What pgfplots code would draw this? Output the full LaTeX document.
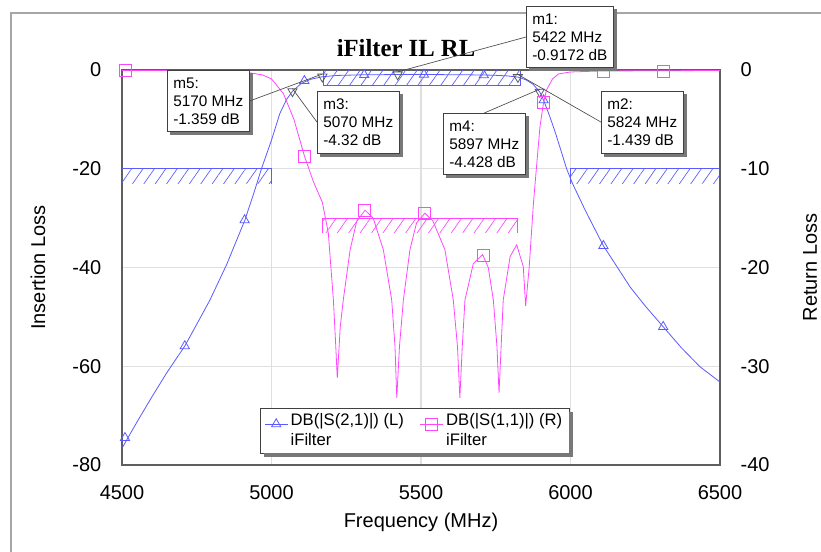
\documentclass[border=0pt]{standalone}
\usepackage{pgfplots}
\pgfplotsset{compat=1.18}
\usepackage{fontspec}
\setmainfont{Liberation Sans}
\newfontfamily\serifbold{Liberation Serif}
\usetikzlibrary{patterns.meta}

\definecolor{sblue}{RGB}{90,90,255}
\definecolor{spink}{RGB}{255,70,255}
\definecolor{framec}{RGB}{95,95,95}
\definecolor{shadowc}{RGB}{120,120,120}

\tikzset{
  mk/.style={draw=black!75, fill=white, line width=0.5pt, align=left,
    inner xsep=4.5pt, inner ysep=5.5pt, font=\fontsize{11.5}{13.5}\selectfont}}

% shadow below and right of a named node
\newcommand\shadowof[1]{%
  \fill[shadowc] ([shift={(2.6pt,-2.6pt)}]#1.south west) rectangle ([shift={(2.6pt,-2.6pt)}]#1.north east);}

\pgfplotsset{
  base/.style={at={(91.5pt,65.25pt)}, anchor=south west, scale only axis,
    width=448.5pt, height=296.25pt, xmin=4500, xmax=6500,
    major tick length=0pt, axis line style={framec, line width=0.8pt},
    tick label style={font=\fontsize{15}{18}\selectfont},
    label style={font=\fontsize{15}{18}\selectfont},
    /pgf/number format/assume math mode=true, /pgf/number format/1000 sep={}},
  hatch/.style={draw=none, pattern={Lines[angle=55,distance=7pt,line width=0.5pt]}, pattern color=#1},
}

\begin{document}
\begin{tikzpicture}
\useasboundingbox (0,0) rectangle (615.75pt,414pt);
\draw[gray!70, line width=1pt] (8.25pt,404.25pt) rectangle (640pt,-20pt);

% left axis: insertion loss
\begin{axis}[base, ymin=-80, ymax=0,
  xtick={4500,5000,...,6500}, ytick={-80,-60,...,0},
  grid=major, grid style={gray!25, line width=0.8pt},
  xticklabel style={yshift=-12pt}, yticklabel style={xshift=-12pt},
  xlabel={Frequency (MHz)}, ylabel={Insertion Loss},
  xlabel style={at={(axis description cs:0.5,-0.144)}, anchor=center},
  ylabel style={at={(axis description cs:-0.1405,0.5)}, anchor=center}]
% masks
\addplot[hatch=sblue] coordinates {(4500,-20)(5000,-20)(5000,-23)(4500,-23)} -- cycle;
\addplot[sblue, line width=0.6pt] coordinates {(4500,-20)(5000,-20)(5000,-23)};
\addplot[hatch=sblue] coordinates {(6000,-20)(6500,-20)(6500,-23)(6000,-23)} -- cycle;
\addplot[sblue, line width=0.6pt] coordinates {(6000,-23)(6000,-20)(6500,-20)};
\addplot[hatch=sblue] coordinates {(5172,-3.05)(5831,-3.05)(5831,-0.2)(5172,-0.2)} -- cycle;
\addplot[sblue, line width=0.6pt] coordinates {(5172,-0.3)(5172,-3.05)(5831,-3.05)(5831,-0.3)};
% S21
\addplot[sblue, line width=0.6pt] coordinates {
(4500,-76.6)(4550,-71.3)(4600,-66.2)(4650,-61.3)(4710,-55.9)(4750,-51.5)(4794,-46.6)
(4850,-39.4)(4911,-30.4)(4940,-25.1)(4967,-19.9)(5000,-14.2)(5028,-8.8)(5050,-6.0)
(5070,-4.32)(5100,-2.7)(5130,-1.9)(5170,-1.359)(5220,-1.1)(5300,-0.98)(5422,-0.917)
(5550,-0.93)(5650,-0.97)(5740,-1.05)(5790,-1.2)(5824,-1.439)(5850,-1.95)(5875,-2.9)
(5897,-4.428)(5910,-6.1)(5930,-9.3)(5950,-12.8)(5987,-20.0)(6006,-22.9)(6050,-28.5)
(6110,-35.6)(6200,-44.0)(6250,-47.8)(6310,-52.0)(6370,-56.2)(6433,-60.1)(6500,-63.2)};
\addplot[sblue, only marks, mark=triangle, mark size=4pt, line width=0.6pt] coordinates {
(4510,-74.5)(4710,-55.9)(4910,-30.4)(5110,-2.2)(5310,-0.97)(5510,-0.93)(5710,-1.02)
(5910,-6.1)(6110,-35.6)(6310,-52.0)};
% markers m1..m5
\addplot[only marks, mark=triangle, mark size=4pt, mark options={rotate=180, draw=black!65, fill=none}, line width=0.6pt] coordinates {
(5422,-0.9172)(5824,-1.439)(5070,-4.32)(5897,-4.428)(5170,-1.359)};
\coordinate (M1) at (axis cs:5422,-0.9172);
\coordinate (M2) at (axis cs:5824,-1.439);
\coordinate (M3) at (axis cs:5070,-4.32);
\coordinate (M4) at (axis cs:5897,-4.428);
\coordinate (M5) at (axis cs:5170,-1.359);
\end{axis}

% right axis: return loss
\begin{axis}[base, ymin=-40, ymax=0, ytick={-40,-30,...,0},
  axis x line=none, axis y line*=right, yticklabel style={xshift=12pt},
  ylabel={Return Loss},
  ylabel style={at={(axis description cs:1.1505,0.5)}, anchor=center},
  legend columns=2,
  legend image post style={yshift=5pt},
  legend style={name=leg, at={(0.231,0.144)}, anchor=north west, draw=black!75, fill=white,
    font=\fontsize{12.5}{15}\selectfont, inner xsep=3pt, inner ysep=2pt,
    cells={anchor=west, align=left},
    /tikz/every even column/.append style={column sep=10pt}}]
\addlegendimage{sblue, line width=0.6pt, mark=triangle, mark size=4pt}
\addlegendentry{DB(\textbar S(2,1)\textbar) (L)\\iFilter}
\addlegendimage{spink, line width=0.6pt, mark=square, mark size=4.5pt}
\addlegendentry{DB(\textbar S(1,1)\textbar) (R)\\iFilter}
\addplot[hatch=spink, forget plot] coordinates {(5171,-15)(5824,-15)(5824,-16.5)(5171,-16.5)} -- cycle;
\addplot[spink, line width=0.6pt, forget plot] coordinates {(5171,-16.5)(5171,-15)(5824,-15)(5824,-16.5)};
% S11
\addplot[spink, line width=0.6pt, forget plot] coordinates {
(4500,-0.05)(4800,-0.05)(4880,-0.1)(4930,-0.3)(4970,-0.5)(5000,-0.9)(5040,-2.4)(5075,-5.0)
(5110,-8.7)(5140,-11.3)(5170,-13.4)(5190,-16.5)(5207,-23.3)(5215,-28)(5220,-31.2)
(5230,-26)(5240,-23.3)(5263,-18.2)(5285,-15.3)(5313,-14.2)(5340,-15.0)(5374,-18.2)
(5402,-23.3)(5413,-28)(5419,-33.2)(5428,-28)(5441,-23.3)(5463,-18.2)(5485,-15.5)
(5513,-14.5)(5540,-15.3)(5580,-18.2)(5608,-23.3)(5622,-28)(5630,-33.2)(5638,-28)
(5647,-23.3)(5675,-19.6)(5706,-18.7)(5725,-20)(5742,-23.3)(5754,-28)(5761,-32.7)
(5768,-28)(5775,-23.3)(5798,-18.9)(5820,-17.7)(5842,-19.9)(5850,-23.9)(5862,-19.9)
(5876,-13.5)(5890,-8.5)(5898,-5.7)(5910,-3.3)(5920,-2.0)(5940,-0.9)(5960,-0.4)
(6000,-0.2)(6100,-0.1)(6500,-0.05)};
\addplot[spink, only marks, mark=square, mark size=4.5pt, line width=0.6pt, forget plot] coordinates {
(4510,-0.05)(5110,-8.7)(5310,-14.2)(5510,-14.5)(5710,-18.8)
(5910,-3.3)(6110,-0.15)(6310,-0.1)};
\end{axis}

\node[font=\serifbold\bfseries\fontsize{18.5}{20}\selectfont] at (304.5pt,378pt) {iFilter IL RL};

% legend shadow: redraw the legend frame on top of its shadow strip
\fill[shadowc] ([shift={(2.6pt,0pt)}]leg.south east) rectangle ([shift={(0pt,-2.6pt)}]leg.south east);
\fill[shadowc] ([shift={(2.6pt,-2.6pt)}]leg.south west) rectangle ([shift={(0pt,0pt)}]leg.south east);
\fill[shadowc] ([shift={(0pt,-2.6pt)}]leg.north east) rectangle ([shift={(2.6pt,-2.6pt)}]leg.south east);

\path (394.5pt,409.5pt) node[mk, anchor=north west, opacity=0] (b1) {m1:\\5422 MHz\\-0.9172 dB};
\path (450.75pt,345.75pt) node[mk, anchor=north west, opacity=0] (b2) {m2:\\5824 MHz\\-1.439 dB};
\path (237.75pt,345.75pt) node[mk, anchor=north west, opacity=0] (b3) {m3:\\5070 MHz\\-4.32 dB};
\path (332.25pt,329.25pt) node[mk, anchor=north west, opacity=0] (b4) {m4:\\5897 MHz\\-4.428 dB};
\path (125.25pt,361.5pt) node[mk, anchor=north west, opacity=0] (b5) {m5:\\5170 MHz\\-1.359 dB};
\foreach \b in {b1,b2,b3,b4,b5} {\shadowof{\b}}
\node[mk, anchor=north west] at (394.5pt,409.5pt) {m1:\\5422 MHz\\-0.9172 dB};
\node[mk, anchor=north west] at (450.75pt,345.75pt) {m2:\\5824 MHz\\-1.439 dB};
\node[mk, anchor=north west] at (237.75pt,345.75pt) {m3:\\5070 MHz\\-4.32 dB};
\node[mk, anchor=north west] at (332.25pt,329.25pt) {m4:\\5897 MHz\\-4.428 dB};
\node[mk, anchor=north west] at (125.25pt,361.5pt) {m5:\\5170 MHz\\-1.359 dB};
\draw[black!70, line width=0.5pt] (b1.west) -- ([yshift=2pt]M1);
\draw[black!70, line width=0.5pt] (b2.west) -- ([yshift=2pt]M2);
\draw[black!70, line width=0.5pt] (b3.west) -- ([yshift=2pt]M3);
\draw[black!70, line width=0.5pt] (b4.north) -- ([yshift=2pt]M4);
\draw[black!70, line width=0.5pt] (b5.east) -- ([yshift=2pt]M5);
\end{tikzpicture}
\end{document}
